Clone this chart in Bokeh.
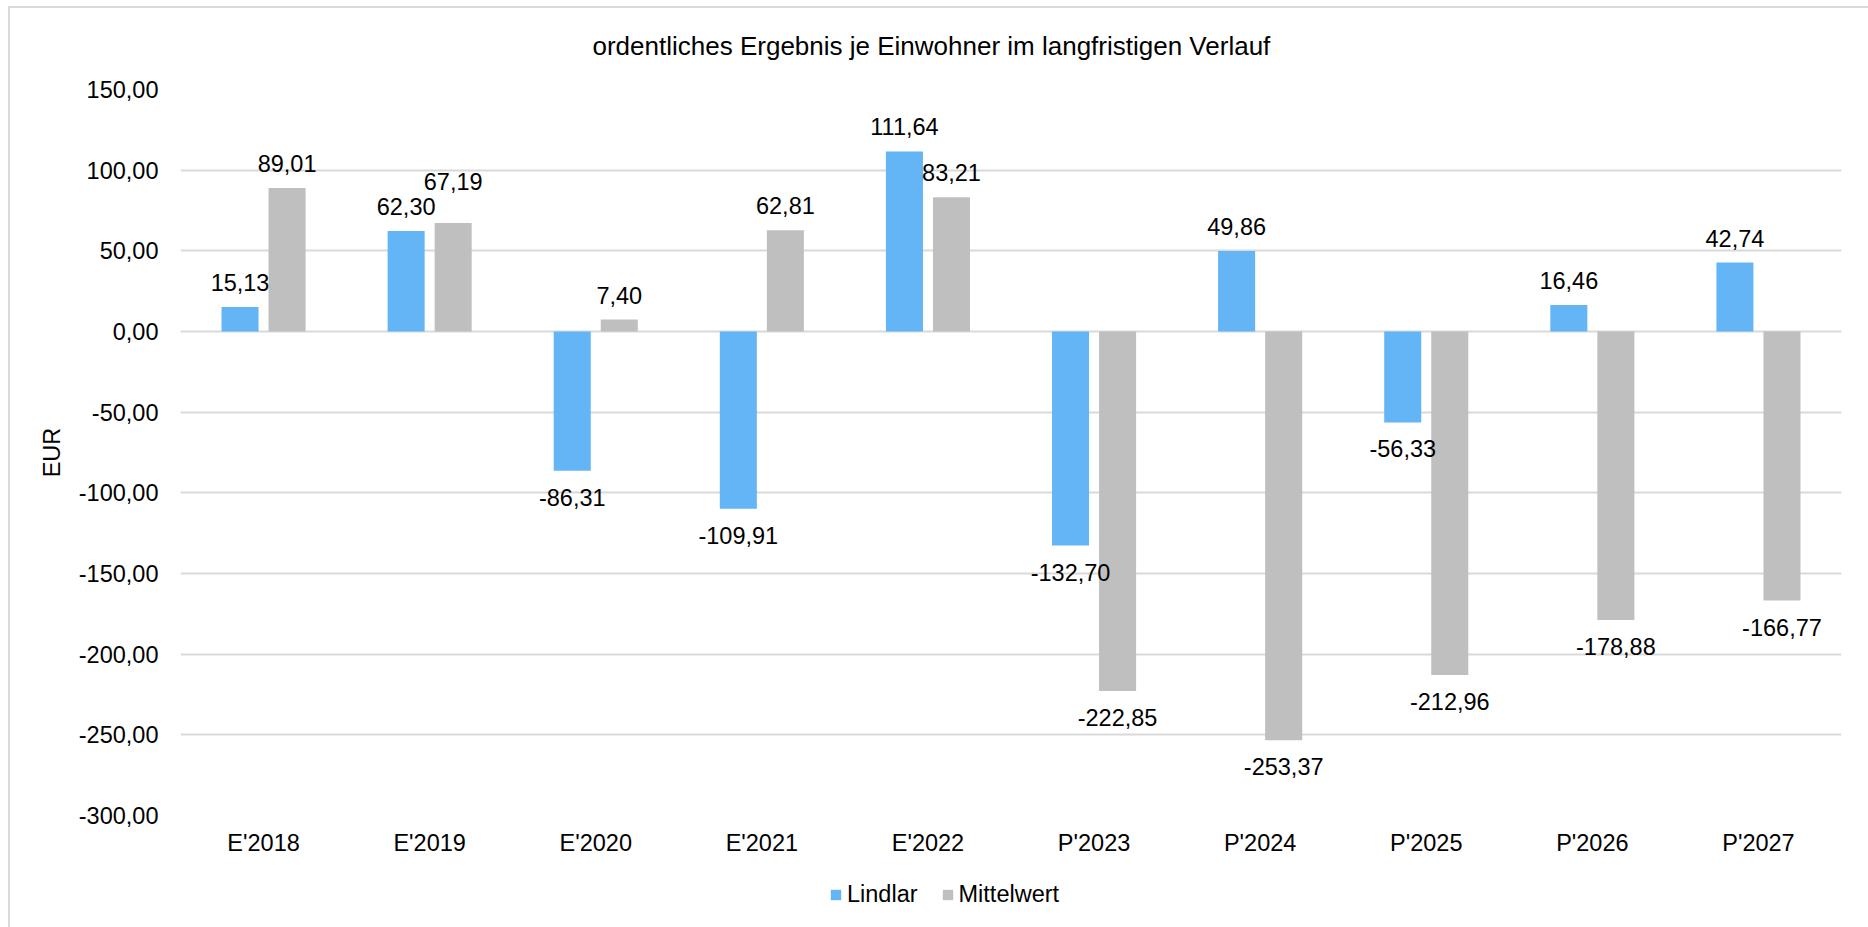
from bokeh.plotting import figure
from bokeh.layouts import column
from bokeh.models import (FactorRange, Range1d, FixedTicker, Legend, LegendItem,
                          ColumnDataSource, CustomJSTickFormatter, InlineStyleSheet)
from bokeh.transform import dodge
from bokeh.core.properties import value
from bokeh.embed import file_html
from bokeh.resources import INLINE

# --- data -------------------------------------------------------------
categories = ["E'2018", "E'2019", "E'2020", "E'2021", "E'2022",
              "P'2023", "P'2024", "P'2025", "P'2026", "P'2027"]
lindlar = [15.13, 62.30, -86.31, -109.91, 111.64, -132.70, 49.86, -56.33, 16.46, 42.74]
mittelwert = [89.01, 67.19, 7.40, 62.81, 83.21, -222.85, -253.37, -212.96, -178.88, -166.77]
y_ticks = [-300, -250, -200, -150, -100, -50, 0, 50, 100, 150]
series_names = ["Lindlar", "Mittelwert"]

title_text = "ordentliches Ergebnis je Einwohner im langfristigen Verlauf"
y_label = "EUR"

# --- style ------------------------------------------------------------
FONT = "Liberation Sans"
FS = "23.5px"
BLUE = "#64B5F6"
GREY = "#BFBFBF"
GRID = "#D9D9D9"
BAR_W = 0.223
OFF = 0.1416
W = 1868
H_CHART = 870
H_LEGEND = 57


def de(v):
    return f"{v:.2f}".replace(".", ",")


p = figure(x_range=FactorRange(factors=categories), y_range=Range1d(-300, 150),
           width=W, height=H_CHART, output_backend="svg", toolbar_location=None,
           min_border_left=180, min_border_right=27, min_border_top=89, min_border_bottom=55)
p.outline_line_color = None
p.background_fill_color = "white"
p.border_fill_color = "white"

p.title.text = title_text
p.title.text_font = FONT
p.title.text_font_size = "26px"
p.title.text_font_style = "normal"
p.title.text_color = "black"
p.title.align = "left"
p.title.offset = 412
p.title.vertical_align = "top"
p.title.standoff = 54

# grid
p.xgrid.visible = False
p.ygrid.ticker = FixedTicker(ticks=y_ticks)
p.ygrid.grid_line_color = GRID
p.ygrid.grid_line_width = 2

# y axis
p.yaxis.ticker = FixedTicker(ticks=y_ticks)
p.yaxis.formatter = CustomJSTickFormatter(code="return tick.toFixed(2).replace('.', ',');")
p.yaxis.axis_line_color = None
p.yaxis.major_tick_line_color = None
p.yaxis.minor_tick_line_color = None
p.yaxis.major_tick_out = 0
p.yaxis.major_tick_in = 0
p.yaxis.major_label_standoff = 22
p.yaxis.major_label_text_font = FONT
p.yaxis.major_label_text_font_size = FS
p.yaxis.major_label_text_color = "black"
p.yaxis.axis_label = y_label
p.yaxis.axis_label_text_font = FONT
p.yaxis.axis_label_text_font_size = FS
p.yaxis.axis_label_text_font_style = "normal"
p.yaxis.axis_label_text_color = "black"
p.yaxis.axis_label_standoff = 11

# x axis
p.xaxis.axis_line_color = None
p.xaxis.major_tick_line_color = None
p.xaxis.minor_tick_line_color = None
p.xaxis.major_tick_out = 0
p.xaxis.major_tick_in = 0
p.xaxis.major_label_standoff = 14
p.xaxis.major_label_text_font = FONT
p.xaxis.major_label_text_font_size = FS
p.xaxis.major_label_text_color = "black"

# bars
src = ColumnDataSource(dict(cat=categories, lindlar=lindlar, mittelwert=mittelwert))
p.vbar(x=dodge("cat", -OFF, range=p.x_range), top="lindlar", bottom=0, width=BAR_W,
       source=src, fill_color=BLUE, line_color=None)
p.vbar(x=dodge("cat", OFF, range=p.x_range), top="mittelwert", bottom=0, width=BAR_W,
       source=src, fill_color=GREY, line_color=None)

# value labels: above positive bars, below negative ones
lift = {("mittelwert", "E'2019"): 17}


def label_source(name, vals):
    offs = []
    for c, v in zip(categories, vals):
        o = -24.5 if v >= 0 else 26.5
        o -= lift.get((name, c), 0)
        offs.append(o)
    return ColumnDataSource(dict(cat=categories, y=vals, txt=[de(v) for v in vals], yo=offs))


for name, vals, off in (("lindlar", lindlar, -OFF), ("mittelwert", mittelwert, OFF)):
    p.text(x=dodge("cat", off, range=p.x_range), y="y", text="txt", y_offset="yo",
           source=label_source(name, vals), text_align="center", text_baseline="middle",
           text_font=value(FONT), text_font_size=FS, text_color="black")

# legend strip under the chart; its series renderers stay hidden and only
# supply the legend swatches
leg = figure(width=W, height=H_LEGEND, output_backend="svg", toolbar_location=None,
             x_range=p.x_range, y_range=p.y_range,
             x_axis_type=None, y_axis_type=None, min_border=0)
leg.outline_line_color = None
leg.grid.visible = False
leg.border_fill_color = "white"
sw_l = leg.vbar(x=dodge("cat", -OFF, range=p.x_range), top="lindlar", bottom=0, width=BAR_W,
                source=src, fill_color=BLUE, line_color=None, visible=False)
sw_m = leg.vbar(x=dodge("cat", OFF, range=p.x_range), top="mittelwert", bottom=0, width=BAR_W,
                source=src, fill_color=GREY, line_color=None, visible=False)
legend = Legend(items=[LegendItem(label=series_names[0], renderers=[sw_l]),
                       LegendItem(label=series_names[1], renderers=[sw_m])],
                orientation="horizontal", location=(649, 19.5),
                glyph_width=13, glyph_height=13, label_standoff=5, spacing=23,
                label_text_font=FONT, label_text_font_size=FS, label_text_color="black",
                inactive_fill_alpha=0,
                border_line_color=None, background_fill_alpha=0, padding=0, margin=0)
leg.add_layout(legend, "center")

# light chart-area border along the left and top edges
frame_css = InlineStyleSheet(css="""
:host::after {
  content: "";
  position: absolute;
  left: 8px; top: 6px; right: 0; bottom: 0;
  border-left: 2px solid #D9D9D9;
  border-top: 2px solid #D9D9D9;
  pointer-events: none;
  z-index: 10;
}
""")

root = column(p, leg, spacing=0, stylesheets=[frame_css])

open("out.html", "w").write(file_html(root, INLINE))
